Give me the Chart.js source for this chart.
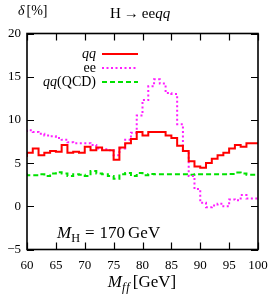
<!DOCTYPE html>
<html><head><meta charset="utf-8">
<script src="https://cdn.jsdelivr.net/npm/chart.js@4/dist/chart.umd.min.js"></script>
<style>html,body{margin:0;padding:0;background:#fff;}canvas{display:block;}</style>
</head><body>
<canvas id="c" width="270" height="295"></canvas>
<script>
// ---- data ----
const binEdges = [60,61,62,63,64,65,66,67,68,69,70,71,72,73,74,75,76,77,78,79,80,81,82,83,84,85,86,87,88,89,90,91,92,93,94,95,96,97,98,99,100];
const qq = [5.7,6.2,6.7,5.9,6.2,6.4,6.3,7.1,6.2,6.3,6.2,6.9,6.5,6.8,6.5,6.5,5.4,6.8,7.3,7.8,8.6,8.2,8.6,8.6,8.6,8.2,7.9,7.0,6.4,5.2,4.6,4.45,5.0,5.5,5.9,6.2,6.7,7.1,6.9,7.3];
const ee = [8.6,8.8,8.6,8.4,8.2,8.1,7.9,7.7,7.4,7.3,7.3,7.3,7.1,6.7,6.6,6.5,5.9,6.7,7.7,8.5,10.5,12.3,13.9,14.7,14.2,13.1,13.0,9.5,6.4,3.5,2.0,0.4,-0.1,0.1,0.3,0.0,0.8,0.7,1.3,0.9];
const qqQCD = [3.8,3.6,3.6,3.7,3.5,3.8,3.95,3.8,3.5,3.7,3.65,3.5,4.1,3.8,3.7,3.5,3.2,3.7,3.85,3.5,3.85,3.6,3.75,3.7,3.7,3.7,3.7,3.7,3.7,3.65,3.7,3.7,3.7,3.7,3.7,3.7,3.75,3.9,3.8,3.65];
const xTicks = [60,65,70,75,80,85,90,95,100];
const yTicks = [-5,0,5,10,15,20];
const seriesLabels = ['qq','ee','qq(QCD)'];

const SERIF = '"Liberation Serif", "DejaVu Serif", serif';

function steps(vals){
  const pts = vals.map((v,i)=>({x:binEdges[i], y:v}));
  pts.push({x:binEdges[binEdges.length-1], y:vals[vals.length-1]});
  return pts;
}

function segFont(s, size){
  const fs = s.sub ? size*0.72 : size;
  return (s.it?'italic ':'') + fs + 'px ' + SERIF;
}
function richWidth(ctx, segs, size){
  let w=0;
  for(const s of segs){
    if(s.gap){ w += s.gap; continue; }
    ctx.font = segFont(s,size);
    w += ctx.measureText(s.t).width;
  }
  return w;
}
function drawRich(ctx, segs, x, y, size, align){
  const w = richWidth(ctx, segs, size);
  let cx = align==='right' ? x - w : align==='center' ? x - w/2 : x;
  ctx.save();
  ctx.fillStyle = '#000';
  ctx.textBaseline = 'alphabetic';
  ctx.textAlign = 'left';
  for(const s of segs){
    if(s.gap){ cx += s.gap; continue; }
    ctx.font = segFont(s,size);
    ctx.fillText(s.t, cx, s.sub ? y + size*0.22 : y);
    cx += ctx.measureText(s.t).width;
  }
  ctx.restore();
}

const framePlugin = {
  id:'frame',
  afterDraw(chart){
    const ctx = chart.ctx, a = chart.chartArea;
    const xs = chart.scales.x, ys = chart.scales.y;
    ctx.save();
    ctx.strokeStyle = '#000';
    ctx.lineWidth = 1.2;
    const tl = 7;
    ctx.beginPath();
    for(const t of xTicks){
      const px = Math.round(xs.getPixelForValue(t))+0.5;
      ctx.moveTo(px, a.bottom); ctx.lineTo(px, a.bottom - tl);
      ctx.moveTo(px, a.top); ctx.lineTo(px, a.top + tl);
    }
    for(const t of yTicks){
      const py = Math.round(ys.getPixelForValue(t))+0.5;
      ctx.moveTo(a.left, py); ctx.lineTo(a.left + tl, py);
      ctx.moveTo(a.right, py); ctx.lineTo(a.right - tl, py);
    }
    ctx.stroke();
    ctx.lineWidth = 1.6;
    ctx.strokeRect(a.left, a.top, a.right - a.left, a.bottom - a.top);

    // legend
    const ds = chart.data.datasets;
    const rowsY = [54, 68, 82];
    const legendText = [
      [{t:'qq', it:true}],
      [{t:'ee'}],
      [{t:'qq', it:true},{t:'(QCD)'}]
    ];
    for(let i=0;i<3;i++){
      drawRich(ctx, legendText[i], 96, rowsY[i]+4, 14, 'right');
      ctx.save();
      ctx.strokeStyle = ds[i].borderColor;
      ctx.lineWidth = ds[i].borderWidth;
      ctx.setLineDash(ds[i].borderDash || []);
      ctx.beginPath();
      ctx.moveTo(102, rowsY[i]); ctx.lineTo(138, rowsY[i]);
      ctx.stroke();
      ctx.restore();
    }

    // annotations
    drawRich(ctx, [{t:'δ', it:true},{gap:2},{t:'[%]'}], 18, 15, 14, 'left');
    drawRich(ctx, [{t:'H'},{gap:3},{t:'→'},{gap:3},{t:'ee'},{t:'qq', it:true}], 110, 18, 15, 'left');
    drawRich(ctx, [{t:'M', it:true},{t:'H', sub:true},{gap:5},{t:'='},{gap:5},{t:'170'},{gap:3},{t:'GeV'}], 57, 238, 17, 'left');
    drawRich(ctx, [{t:'M', it:true},{t:'f', it:true, sub:true},{gap:1},{t:'f', it:true, sub:true},{gap:3},{t:'[GeV]'}], 142, 287, 17, 'center');
    ctx.restore();
  }
};

new Chart(document.getElementById('c'), {
  type:'line',
  data:{
    datasets:[
      {label:seriesLabels[0], data:steps(qq), borderColor:'rgb(255,0,0)', borderWidth:2, stepped:'after', pointRadius:0, fill:false, order:0},
      {label:seriesLabels[1], data:steps(ee), borderColor:'rgb(255,30,255)', borderWidth:2, borderDash:[2,2.5], stepped:'after', pointRadius:0, fill:false, order:1},
      {label:seriesLabels[2], data:steps(qqQCD), borderColor:'rgb(0,225,0)', borderWidth:2, borderDash:[5,3], stepped:'after', pointRadius:0, fill:false, order:2}
    ]
  },
  options:{
    responsive:false, animation:false, devicePixelRatio:1,
    layout:{padding:{top:33.5, right:12, left:0, bottom:0}},
    plugins:{legend:{display:false}, tooltip:{enabled:false}},
    scales:{
      x:{type:'linear', min:xTicks[0], max:xTicks[xTicks.length-1],
        afterBuildTicks(s){ s.ticks = xTicks.map(v=>({value:v})); },
        afterFit(s){ s.height = 45.5; s.paddingLeft = 0; s.paddingRight = 0; },
        grid:{display:true, drawOnChartArea:false, drawTicks:false},
        border:{display:false},
        ticks:{padding:8, font:{family:SERIF, size:13}, color:'#000', maxRotation:0, autoSkip:false}
      },
      y:{type:'linear', min:yTicks[0], max:yTicks[yTicks.length-1],
        afterBuildTicks(s){ s.ticks = yTicks.map(v=>({value:v})); },
        afterFit(s){ s.width = 27; s.paddingTop = 0; s.paddingBottom = 0; },
        grid:{display:true, drawOnChartArea:false, drawTicks:false},
        border:{display:false},
        ticks:{padding:6, font:{family:SERIF, size:13}, color:'#000', autoSkip:false,
          callback:(v)=> v<0 ? '−'+Math.abs(v) : String(v)}
      }
    }
  },
  plugins:[framePlugin]
});
</script>
</body></html>
